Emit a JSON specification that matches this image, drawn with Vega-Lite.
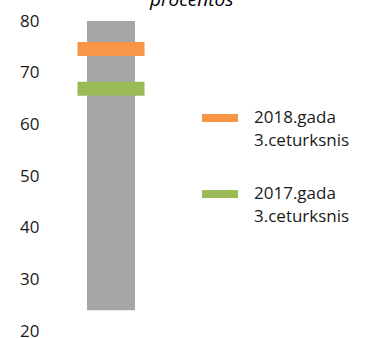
{
  "$schema": "https://vega.github.io/schema/vega-lite/v6.json",
  "autosize": "none",
  "width": 126,
  "height": 310,
  "padding": {"left": 48, "top": 21, "right": 195, "bottom": 7},
  "background": "white",
  "config": {"view": {"stroke": null}, "font": "Open Sans"},
  "title": {"text": "procentos", "fontStyle": "italic", "fontWeight": "normal", "fontSize": 19, "color": "#000000", "anchor": "start", "frame": "group", "dx": 102, "baseline": "alphabetic", "offset": 8, "dy": 21},
  "datasets": {
    "range": [{"cat": "a", "low": 24, "high": 80}],
    "marks": [
      {"cat": "a", "series": "2018.gada|3.ceturksnis", "value": 74.6},
      {"cat": "a", "series": "2017.gada|3.ceturksnis", "value": 66.9}
    ]
  },
  "layer": [
    {
      "data": {"name": "range"},
      "mark": {"type": "bar", "color": "#a6a6a6", "width": 48},
      "encoding": {
        "x": {"field": "cat", "type": "nominal", "axis": null},
        "y": {"field": "low", "type": "quantitative", "scale": {"domain": [20, 80], "nice": false, "zero": false},
              "axis": {"values": [20, 30, 40, 50, 60, 70, 80], "domain": false, "ticks": false, "grid": false, "title": null, "labelFontSize": 17, "labelColor": "#1a1a1a", "labelPadding": 9}},
        "y2": {"field": "high"}
      }
    },
    {
      "data": {"name": "marks"},
      "mark": {"type": "tick", "thickness": 14, "size": 67, "opacity": 1},
      "encoding": {
        "x": {"field": "cat", "type": "nominal", "axis": null},
        "y": {"field": "value", "type": "quantitative"},
        "color": {"field": "series", "type": "nominal", "sort": null,
          "scale": {"domain": ["2018.gada|3.ceturksnis", "2017.gada|3.ceturksnis"], "range": ["#f79646", "#9bbb59"]},
          "legend": {"title": null, "orient": "none", "legendX": 154, "legendY": 79,
            "symbolType": "M-1,-0.22H1V0.22H-1Z", "symbolSize": 1296, "symbolStrokeWidth": 0, "symbolOpacity": 1,
            "labelExpr": "split(datum.label, '|')", "labelFontSize": 17, "labelColor": "#1a1a1a", "labelLimit": 0,
            "labelOffset": 16, "rowPadding": 27,
            "encode": {"labels": {"update": {"lineHeight": {"value": 23}}}}}}
      }
    }
  ]
}
